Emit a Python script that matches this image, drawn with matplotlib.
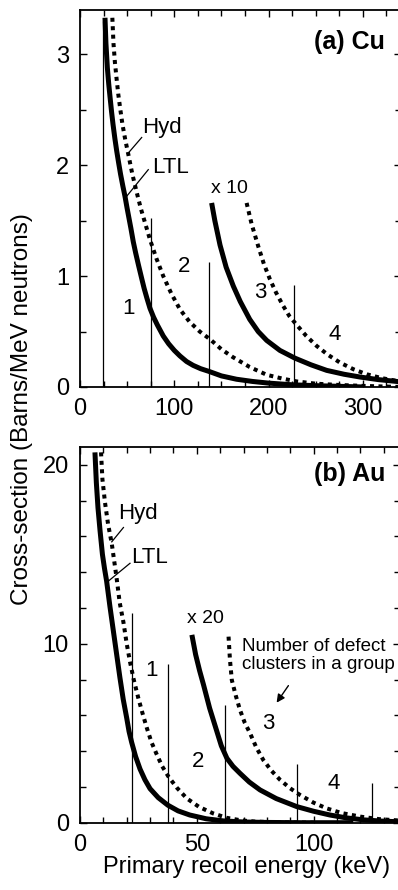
import matplotlib
matplotlib.use("Agg")
import matplotlib.pyplot as plt
from matplotlib.ticker import MultipleLocator

plt.rcParams['font.family'] = ['Liberation Sans', 'DejaVu Sans']

# (a) Cu : cross-section curves
cu_ltl_x = [26.5, 27.5, 29, 30.5, 31.8, 33.5, 35, 37, 38.9, 41, 43, 45.5, 47.7, 50, 52, 54, 56.5, 59,
            62, 65.4, 68, 71, 74.2, 78, 82, 88.3, 94, 100, 106, 113, 120, 128, 137, 150, 166, 183,
            200, 225, 250, 275, 302]
cu_ltl_y = [3.33, 3.1, 2.88, 2.73, 2.62, 2.48, 2.37, 2.24, 2.13, 2.02, 1.92, 1.81, 1.72, 1.61, 1.52,
            1.43, 1.31, 1.21, 1.10, 0.98, 0.89, 0.80, 0.71, 0.63, 0.56, 0.46, 0.39, 0.33, 0.28, 0.23,
            0.195, 0.165, 0.14, 0.10, 0.07, 0.05, 0.035, 0.02, 0.012, 0.006, 0.0]
cu_hyd_x = [34.3, 35.5, 37, 38.8, 40.6, 42.8, 45, 48, 51.2, 55.5, 60, 64.5, 69, 74.2, 81, 88.3, 97,
            106, 116, 127, 138, 150, 162, 180, 198, 215, 230, 250, 270, 300, 340]
cu_hyd_y = [3.33, 3.1, 2.93, 2.78, 2.64, 2.5, 2.37, 2.23, 2.10, 1.92, 1.76, 1.61, 1.48, 1.33, 1.16,
            1.0, 0.84, 0.70, 0.59, 0.50, 0.43, 0.34, 0.27, 0.18, 0.11, 0.075, 0.05, 0.03, 0.02, 0.01, 0.0]
cu_ltl10_x = [139.6, 143, 148.5, 155, 162.6, 170, 180, 189, 198, 212, 228, 245, 261.6, 280, 297, 316, 336, 340]
cu_ltl10_y = [1.66, 1.50, 1.28, 1.08, 0.91, 0.77, 0.61, 0.50, 0.42, 0.33, 0.26, 0.20, 0.15, 0.115, 0.09,
              0.067, 0.05, 0.046]
cu_hyd10_x = [176.7, 182, 189, 195, 201.5, 208, 215.6, 222, 229.8, 240, 251, 263, 275.7, 290, 304, 320, 336, 340]
cu_hyd10_y = [1.66, 1.47, 1.27, 1.11, 0.97, 0.85, 0.73, 0.64, 0.56, 0.46, 0.37, 0.29, 0.22, 0.16, 0.115,
              0.08, 0.055, 0.05]
cu_group_x = [24, 75.3, 136.9, 227]
cu_group_h = [3.3, 1.52, 1.13, 0.92]
cu_group_labels = ["1", "2", "3", "4"]
cu_label_x = [51.2, 110, 190.9, 270.4]
cu_label_y = [0.71, 1.09, 0.85, 0.47]

# (b) Au
au_ltl_x = [6.4, 7.0, 7.7, 8.6, 9.6, 10.5, 11.4, 12.8, 14.3, 15.7, 17.1, 18.5, 20, 21, 22.1, 23.8, 25.7,
            27.8, 30, 33.5, 37.6, 42, 47, 54, 61.4, 70, 80, 95, 117]
au_ltl_y = [20.7, 19.0, 17.6, 16.3, 15.0, 14.2, 13.5, 12.1, 10.7, 9.4, 8.1, 6.9, 5.85, 5.1, 4.5, 3.7, 3.0,
            2.4, 1.9, 1.4, 0.98, 0.66, 0.43, 0.22, 0.1, 0.04, 0.015, 0.0, 0.0]
au_hyd_x = [9, 9.6, 10.7, 12, 13.6, 15.7, 17, 18.6, 20, 21.4, 23, 25, 26.8, 28.6, 30.6, 32.9, 35.2, 37.9,
            41.5, 45.7, 51, 57, 62.9, 69, 75, 85, 100]
au_hyd_y = [20.7, 19.2, 17.9, 16.7, 15.6, 13.65, 12.3, 11.2, 10.0, 9.0, 8.0, 6.95, 6.1, 5.3, 4.5, 3.8,
            3.15, 2.57, 1.95, 1.36, 0.88, 0.52, 0.27, 0.13, 0.06, 0.02, 0.0]
au_ltl20_x = [47.9, 49.5, 51.2, 52.9, 55.5, 58.6, 60.5, 62.9, 65.5, 68.5, 72.5, 77.1, 84, 92.8, 100, 107,
              114, 121.3, 129, 137]
au_ltl20_y = [10.5, 9.4, 8.5, 7.7, 6.4, 5.1, 4.3, 3.6, 3.15, 2.76, 2.27, 1.83, 1.35, 0.9, 0.64, 0.43,
              0.27, 0.16, 0.09, 0.05]
au_hyd20_x = [63.6, 64.2, 65, 66.7, 68.5, 70.5, 72.8, 75.5, 78.5, 82, 85.7, 90, 94.2, 100, 105.6, 112,
              120, 128, 137]
au_hyd20_y = [10.4, 9.1, 7.97, 7.1, 6.3, 5.6, 5.0, 4.2, 3.5, 2.9, 2.39, 1.92, 1.55, 1.12, 0.8, 0.54,
              0.34, 0.2, 0.12]
au_group_x = [22.1, 37.6, 62.1, 92.8, 125.2]
au_group_h = [11.7, 8.85, 6.6, 3.3, 2.2]
au_group_labels = ["1", "2", "3", "4"]
au_label_x = [30.7, 50.7, 80.7, 108.5]
au_label_y = [8.53, 3.41, 5.55, 2.2]

fig = plt.figure(figsize=(3.98, 8.9), dpi=100)
ax1 = fig.add_axes([80 / 398, 1 - 387 / 890, 320.6 / 398, 377 / 890])
ax2 = fig.add_axes([80 / 398, 1 - 822.7 / 890, 320 / 398, 375.7 / 890])

solid = dict(color="k", lw=3.6, solid_capstyle="butt", solid_joinstyle="round")
dotted = dict(color="k", lw=2.9, linestyle=(0, (1, 1.1)), dash_capstyle="butt")
thin = dict(color="k", lw=0.9)
txt = dict(fontsize=16, va="center")

# top panel
ax1.plot(cu_ltl_x, cu_ltl_y, **solid)
ax1.plot(cu_hyd_x, cu_hyd_y, **dotted)
ax1.plot(cu_ltl10_x, cu_ltl10_y, **solid)
ax1.plot(cu_hyd10_x, cu_hyd10_y, **dotted)
ax1.vlines(cu_group_x, 0, cu_group_h, **thin)
for lab, x, y in zip(cu_group_labels, cu_label_x, cu_label_y):
    ax1.text(x, y, lab, ha="center", **txt)
ax1.text(65.4, 2.34, "Hyd", ha="left", **txt)
ax1.plot([65.4, 51.2], [2.25, 2.11], **thin)
ax1.text(77, 1.98, "LTL", ha="left", **txt)
ax1.plot([72.4, 49.5], [1.96, 1.72], **thin)
ax1.text(159, 1.79, "x 10", ha="center", fontsize=14, va="center")
ax1.text(323.4, 3.11, "(a) Cu", ha="right", va="center", fontsize=18, fontweight="bold")
ax1.set_xlim(0, 340)
ax1.set_ylim(0, 3.4)
ax1.xaxis.set_major_locator(MultipleLocator(100))
ax1.xaxis.set_minor_locator(MultipleLocator(25))
ax1.yaxis.set_major_locator(MultipleLocator(1))
ax1.yaxis.set_minor_locator(MultipleLocator(0.5))

# bottom panel
ax2.plot(au_ltl_x, au_ltl_y, **solid)
ax2.plot(au_hyd_x, au_hyd_y, **dotted)
ax2.plot(au_ltl20_x, au_ltl20_y, **solid)
ax2.plot(au_hyd20_x, au_hyd20_y, **dotted)
ax2.vlines(au_group_x, 0, au_group_h, **thin)
for lab, x, y in zip(au_group_labels, au_label_x, au_label_y):
    ax2.text(x, y, lab, ha="center", **txt)
ax2.text(16.4, 17.3, "Hyd", ha="left", **txt)
ax2.plot([18.6, 13.6], [16.5, 15.7], **thin)
ax2.text(22.1, 14.8, "LTL", ha="left", **txt)
ax2.plot([21.4, 12.1], [14.5, 13.5], **thin)
ax2.text(53.6, 11.4, "x 20", ha="center", fontsize=14, va="center")
ax2.text(69.2, 9.33, "Number of defect\nclusters in a group", ha="left", va="center",
         fontsize=13.5, linespacing=1.05)
ax2.annotate("", xy=(83.5, 6.58), xytext=(89.9, 7.79),
             arrowprops=dict(arrowstyle="-|>", color="k", lw=1.0, mutation_scale=12))
ax2.text(130.6, 19.5, "(b) Au", ha="right", va="center", fontsize=18, fontweight="bold")
ax2.set_xlim(0, 137)
ax2.set_ylim(0, 21)
ax2.xaxis.set_major_locator(MultipleLocator(50))
ax2.xaxis.set_minor_locator(MultipleLocator(10))
ax2.yaxis.set_major_locator(MultipleLocator(10))
ax2.yaxis.set_minor_locator(MultipleLocator(2))

for ax in (ax1, ax2):
    ax.tick_params(which="both", direction="in", top=True, right=True, width=1.0)
    ax.tick_params(which="major", length=5, labelsize=17, pad=8)
    ax.tick_params(which="minor", length=4)
    for s in ax.spines.values():
        s.set_linewidth(1.3)

fig.text(22.5 / 398, 1 - 409 / 890, "Cross-section (Barns/MeV neutrons)", rotation=90,
         ha="center", va="center", fontsize=17.5)
fig.text(246.5 / 398, 1 - 867 / 890, "Primary recoil energy (keV)",
         ha="center", va="center", fontsize=17)

fig.savefig("out.png", dpi=100)
